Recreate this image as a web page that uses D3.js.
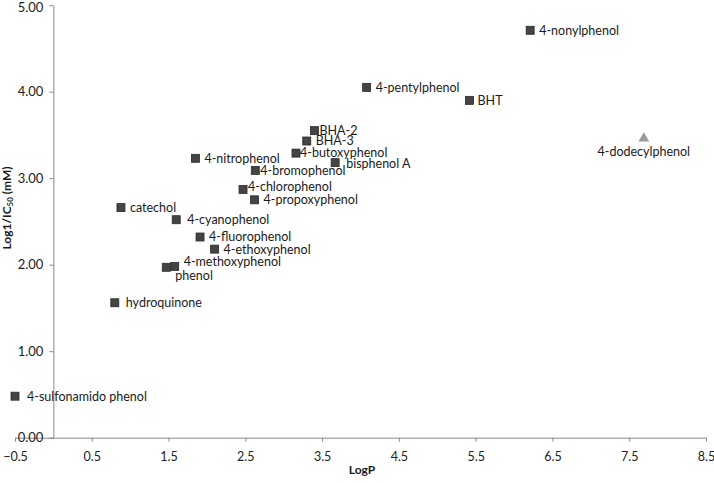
<!DOCTYPE html>
<html lang="en">
<head>
	<meta charset="UTF-8">
	<script type="text/javascript" src="https://d3js.org/d3.v7.min.js"></script>
	<title>logP vs log1/IC50</title>
	<style>
        body{ margin: 0; background: #fff; }
        text{ font-family: Lato, "Open Sans", sans-serif; fill: #1a1a1a; }
        .axis path, .axis line{ stroke: #8a8a8a; stroke-width: 1px; }
        .axis text{ font-size: 12.5px; fill: #222; }
        .lbl{ font-size: 12.5px; }
	</style>
</head>
<body>
<svg id="chart" width="714" height="483"></svg>
<script>
	// compounds (squares)
	const names = ["4-nonylphenol", "4-pentylphenol", "BHT", "BHA-2", "BHA-3", "4-butoxyphenol",
		"bisphenol A", "4-nitrophenol", "4-bromophenol", "4-chlorophenol", "4-propoxyphenol",
		"catechol", "4-cyanophenol", "4-fluorophenol", "4-ethoxyphenol", "4-methoxyphenol",
		"phenol", "hydroquinone", "4-sulfonamido phenol"];
	const logP = [6.21, 4.08, 5.42, 3.40, 3.30, 3.16, 3.67, 1.85, 2.63, 2.47, 2.62,
		0.88, 1.60, 1.91, 2.10, 1.58, 1.47, 0.80, -0.50];
	const logIC = [4.71, 4.05, 3.90, 3.55, 3.43, 3.29, 3.18, 3.23, 3.09, 2.87, 2.75,
		2.66, 2.52, 2.32, 2.18, 1.98, 1.97, 1.56, 0.48];

	// outlier (triangle)
	const outName = ["4-dodecylphenol"];
	const outLogP = [7.69];
	const outLogIC = [3.46];

	const xTicks = [-0.5, 0.5, 1.5, 2.5, 3.5, 4.5, 5.5, 6.5, 7.5, 8.5];
	const yTicks = [0, 1, 2, 3, 4, 5];

	// label nudges (px) where the label does not sit just right of its point
	const nudge = {
		"BHA-2": [5, 0], "4-butoxyphenol": [4, 0], "4-bromophenol": [5, 0], "4-chlorophenol": [5, -3],
		"4-cyanophenol": [11, 0], "hydroquinone": [11, 0], "4-sulfonamido phenol": [12, 0],
		"4-methoxyphenol": [9, -5], "phenol": [9, 8], "BHT": [8, 0], "bisphenol A": [11, 1]
	};

	const svg = d3.select("#chart");
	const x = d3.scaleLinear().domain([-0.5, 8.5]).range([15, 706]);
	const y = d3.scaleLinear().domain([0, 5]).range([437.7, 5.2]);

	// x axis
	const gx = svg.append("g")
		.attr("class", "axis")
		.attr("transform", "translate(0," + y(0) + ")")
		.call(d3.axisBottom(x).tickValues(xTicks).tickSize(4).tickSizeOuter(0).tickPadding(10)
			.tickFormat(d3.format(".1f")));
	gx.selectAll(".tick text").filter(d => d === 8.5).attr("text-anchor", "end").attr("dx", "0.7em");

	// y axis sits on logP = 0
	svg.append("g")
		.attr("class", "axis")
		.attr("transform", "translate(" + x(0) + ",0)")
		.call(d3.axisLeft(y).tickValues(yTicks).tickSize(4).tickSizeOuter(0).tickPadding(6)
			.tickFormat(d3.format(".2f")))
		.selectAll("text").style("font-size", "13px")
		.attr("dy", d => d === 5 ? "0.45em" : "0.32em");

	// axis titles
	svg.append("text")
		.attr("x", 362).attr("y", 474)
		.attr("text-anchor", "middle")
		.style("font-weight", "bold").style("font-size", "12px")
		.text("LogP");

	const yt = svg.append("text")
		.attr("transform", "translate(11,208) rotate(-90)")
		.attr("text-anchor", "middle")
		.style("font-weight", "bold").style("font-size", "12px");
	yt.append("tspan").text("Log1/IC");
	yt.append("tspan").attr("dy", 2).style("font-size", "8px").text("50");
	yt.append("tspan").attr("dy", -2).text(" (mM)");

	const pts = names.map((n, i) => ({name: n, x: logP[i], y: logIC[i]}));
	const s = 8;

	svg.append("g").selectAll("rect")
		.data(pts)
		.join("rect")
		.attr("x", d => x(d.x) - s / 2)
		.attr("y", d => y(d.y) - s / 2)
		.attr("width", s).attr("height", s)
		.attr("fill", "#444")
		.attr("stroke", "#2a2a2a")
		.attr("stroke-width", 0.8);

	svg.append("g").selectAll("text")
		.data(pts)
		.join("text")
		.attr("class", "lbl")
		.attr("x", d => x(d.x) + (nudge[d.name] ? nudge[d.name][0] : 9))
		.attr("y", d => y(d.y) + (nudge[d.name] ? nudge[d.name][1] : 0))
		.attr("dy", "0.35em")
		.text(d => d.name);

	const outs = outName.map((n, i) => ({name: n, x: outLogP[i], y: outLogIC[i]}));
	const tri = d3.symbol().type(d3.symbolTriangle).size(50);

	svg.append("g").selectAll("path")
		.data(outs)
		.join("path")
		.attr("transform", d => "translate(" + x(d.x) + "," + y(d.y) + ")")
		.attr("d", tri)
		.attr("fill", "#9a9a9a");

	svg.append("g").selectAll("text")
		.data(outs)
		.join("text")
		.attr("class", "lbl")
		.attr("x", d => x(d.x))
		.attr("y", d => y(d.y) + 13)
		.attr("dy", "0.35em")
		.attr("text-anchor", "middle")
		.text(d => d.name);
</script>
</body>
</html>
